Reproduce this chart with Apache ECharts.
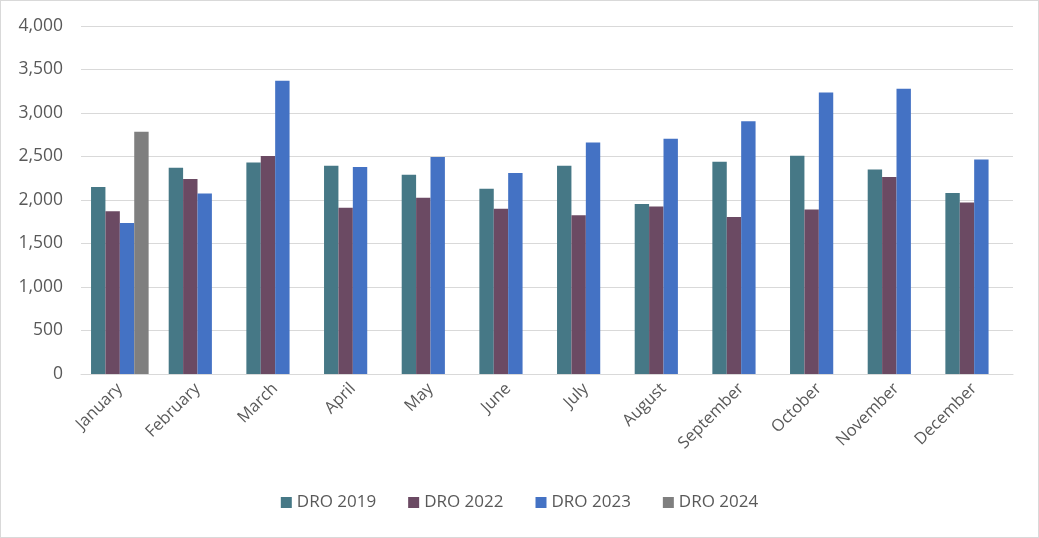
<!DOCTYPE html>
<html><head><meta charset="utf-8">
<script src="https://cdn.jsdelivr.net/npm/echarts@6/dist/echarts.min.js"></script>
<style>html,body{margin:0;padding:0;background:#fff}#c{width:1039px;height:538px;box-sizing:border-box;border:1px solid #d9d9d9}</style>
</head><body><div id="c"></div>
<script>
const months = ['January','February','March','April','May','June','July','August','September','October','November','December'];
const dro2019 = [2150, 2370, 2430, 2395, 2290, 2130, 2395, 1955, 2440, 2510, 2350, 2080];
const dro2022 = [1870, 2240, 2505, 1910, 2025, 1900, 1825, 1925, 1805, 1890, 2265, 1970];
const dro2023 = [1735, 2075, 3370, 2378, 2495, 2310, 2660, 2705, 2905, 3235, 3280, 2465];
const dro2024 = [2785, null, null, null, null, null, null, null, null, null, null, null];
const yTicks = [0, 500, 1000, 1500, 2000, 2500, 3000, 3500, 4000];

const chart = echarts.init(document.getElementById('c'));
const font = 'Open Sans';
const mk = (name, data, color) => ({name, type:'bar', data, barWidth:14.4, barGap:'0%', itemStyle:{color}});
chart.setOption({
  animation:false,
  textStyle:{fontFamily:font},
  grid:{left:80, right:25, top:25, bottom:163},
  legend:{bottom:21, left:'center', itemWidth:11, itemHeight:11, itemGap:32, icon:'rect',
    textStyle:{color:'#595959', fontSize:17, fontFamily:font}},
  xAxis:{type:'category', data:months,
    axisLine:{lineStyle:{color:'#d9d9d9'}}, axisTick:{show:false},
    axisLabel:{rotate:45, color:'#595959', fontSize:16.5, fontFamily:font, margin:12, interval:0}},
  yAxis:{type:'value', min:yTicks[0], max:yTicks[yTicks.length-1], interval:500,
    axisLine:{show:false}, axisTick:{show:false},
    splitLine:{lineStyle:{color:'#d9d9d9'}},
    axisLabel:{color:'#595959', fontSize:17.5, fontFamily:font, margin:18,
      formatter:v=>v.toLocaleString('en-US')}},
  series:[
    mk('DRO 2019', dro2019, '#467886'),
    mk('DRO 2022', dro2022, '#6b4a63'),
    mk('DRO 2023', dro2023, '#4472c4'),
    mk('DRO 2024', dro2024, '#7f7f7f')
  ]
});
</script></body></html>
